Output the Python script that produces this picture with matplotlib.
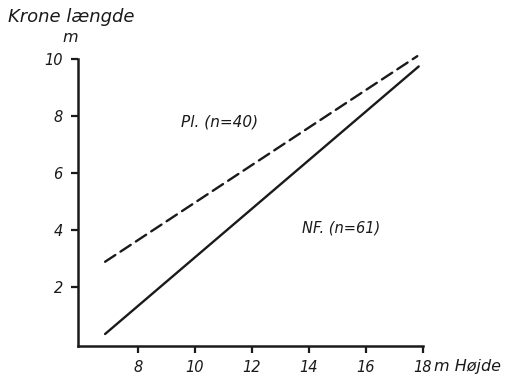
import matplotlib
matplotlib.use("Agg")
import matplotlib.pyplot as plt

# Data
height_nf = [6.85, 17.85]
crown_nf = [0.37, 9.74]
height_pl = [6.85, 17.8]
crown_pl = [2.9, 10.1]
xticks = [8, 10, 12, 14, 16, 18]
yticks = [2, 4, 6, 8, 10]

plt.rcParams['font.family'] = ['DejaVu Sans']
plt.rcParams['font.style'] = 'italic'

fig = plt.figure(figsize=(5.09, 3.77), dpi=100)
ax = fig.add_axes([78/509, 1-346/377, (423-78)/509, (346-59)/377])

ax.plot(height_nf, crown_nf, color='#1a1a1a', lw=1.7, solid_capstyle='round', clip_on=False)
ax.plot(height_pl, crown_pl, color='#1a1a1a', lw=1.7, dashes=(5.2, 2.6), dash_capstyle='round', clip_on=False)

ax.set_xlim(5.9, 18)
ax.set_ylim(-0.05, 10)
ax.set_xticks(xticks)
ax.set_yticks(yticks)
ax.set_xticklabels([str(t) for t in xticks], fontsize=10.5, style='italic')
ax.set_yticklabels([str(t) for t in yticks], fontsize=10.5, style='italic')
ax.tick_params(axis='y', direction='out', length=5, width=1.6, pad=6, colors='#1a1a1a')
ax.tick_params(axis='x', direction='out', length=5, width=1.6, pad=5, colors='#1a1a1a')

for s in ['top', 'right']:
    ax.spines[s].set_visible(False)
for s in ['left', 'bottom']:
    ax.spines[s].set_linewidth(1.8)
    ax.spines[s].set_color('#1a1a1a')

fig.text(8/509, 1-17/377, 'Krone længde', fontsize=13, style='italic', ha='left', va='center', color='#1a1a1a')
fig.text(70/509, 1-37/377, 'm', fontsize=11.5, style='italic', ha='center', va='center', color='#1a1a1a')
fig.text(434/509, 1-366/377, 'm Højde', fontsize=11.5, style='italic', ha='left', va='center', color='#1a1a1a')

ax.text(220/509, 1-122/377, 'Pl. (n=40)', transform=fig.transFigure, fontsize=11, style='italic',
        ha='center', va='center', color='#1a1a1a')
ax.text(341/509, 1-228/377, 'NF. (n=61)', transform=fig.transFigure, fontsize=10.5, style='italic',
        ha='center', va='center', color='#1a1a1a')

fig.savefig('out.png', dpi=100)
